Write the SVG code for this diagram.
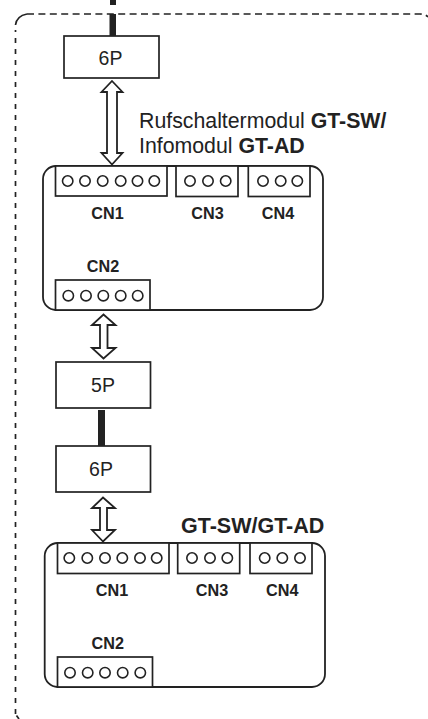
<svg xmlns="http://www.w3.org/2000/svg" width="428" height="719" viewBox="0 0 428 719">
<style>
.b{fill:#fff;stroke:#222;stroke-width:1.7}
.m{fill:#fff;stroke:#222;stroke-width:1.8}
.c{fill:#fff;stroke:#222;stroke-width:1.6}
.a{fill:#fff;stroke:#222;stroke-width:1.8;stroke-linejoin:miter}
.d{fill:none;stroke:#222;stroke-width:1.7}
text{font-family:"Liberation Sans",Arial,sans-serif;fill:#222}
.l{font-size:16.200px;font-weight:bold;text-anchor:middle}
.p{font-size:19.500px;text-anchor:middle}
.t{font-size:21.300px}
.h{font-weight:bold}
</style>
<g id="frame"><path class="d" stroke-dasharray="7 4.4" d="M27 14H420Q425 14 428 17"/><path class="d" stroke-dasharray="5 6" d="M15.500 714V30"/><path class="d" d="M15.500 25Q16.500 16 27 14"/><path class="d" d="M16.500 715.500L19 719"/></g>
<g id="connectors">
<rect x="110" y="0" width="6" height="5" fill="#222"/>
<rect x="109.500" y="14" width="6.500" height="22" fill="#222"/>
<rect x="98" y="410" width="7" height="36" fill="#222"/>
<path class="a" d="M112 81L122.500 92H117V153H122.500L112 164.500L101.500 153H107V92H101.500Z"/>
<path class="a" d="M103.500 314.500L115.500 325H107.500V348H115.500L103.500 358.500L92 348H100V325H92Z"/>
<path class="a" d="M103 497.500L115 508H107V530H115L103 541.500L92 530H100V508H92Z"/>
</g>
<g id="box-6p-top"><rect class="b" x="64" y="36" width="95" height="42"/><text class="p" x="110.500" y="65">6P</text></g>
<g id="label-module"><text class="t" x="139" y="128">Rufschaltermodul <tspan class="h">GT-SW/</tspan></text><text class="t" x="139" y="152.500">Infomodul <tspan class="h">GT-AD</tspan></text></g>
<g id="module-1">
<rect class="m" x="43" y="166" width="280" height="144" rx="13"/>
<rect class="b" x="55.500" y="166" width="111.500" height="30"/>
<g class="c"><circle cx="67.700" cy="181" r="5.200"/><circle cx="85" cy="181" r="5.200"/><circle cx="102.700" cy="181" r="5.200"/><circle cx="120.700" cy="181" r="5.200"/><circle cx="137.500" cy="181" r="5.200"/><circle cx="154.300" cy="181" r="5.200"/></g>
<rect class="b" x="176" y="166" width="62" height="30.500"/>
<g class="c"><circle cx="190" cy="181" r="5.200"/><circle cx="208" cy="181" r="5.200"/><circle cx="225.700" cy="181" r="5.200"/></g>
<rect class="b" x="248.300" y="166" width="61.700" height="30.500"/>
<g class="c"><circle cx="263" cy="181" r="5.200"/><circle cx="280.700" cy="181" r="5.200"/><circle cx="297.300" cy="181" r="5.200"/></g>
<text class="l" x="107.500" y="219">CN1</text><text class="l" x="207.500" y="219">CN3</text><text class="l" x="278" y="219">CN4</text>
<text class="l" x="103" y="272">CN2</text>
<rect class="b" x="55.500" y="280" width="94.500" height="30"/>
<g class="c"><circle cx="68.300" cy="295.700" r="5.200"/><circle cx="86" cy="295.700" r="5.200"/><circle cx="103.300" cy="295.700" r="5.200"/><circle cx="120.700" cy="295.700" r="5.200"/><circle cx="137.700" cy="295.700" r="5.200"/></g>
</g>
<g id="box-5p"><rect class="b" x="56" y="362" width="94.500" height="46"/><text class="p" x="103" y="392">5P</text></g>
<g id="box-6p-lower"><rect class="b" x="56" y="446" width="94.500" height="46"/><text class="p" x="101" y="476">6P</text></g>
<g id="label-gt"><text x="181" y="533" font-size="21.500" font-weight="bold">GT-SW/GT-AD</text></g>
<g id="module-2">
<rect class="m" x="44.700" y="543" width="280.300" height="144" rx="13"/>
<rect class="b" x="57.500" y="543" width="111.500" height="30.500"/>
<g class="c"><circle cx="69.300" cy="558" r="5.200"/><circle cx="87.300" cy="558" r="5.200"/><circle cx="105" cy="558" r="5.200"/><circle cx="122.300" cy="558" r="5.200"/><circle cx="140" cy="558" r="5.200"/><circle cx="156.700" cy="558" r="5.200"/></g>
<rect class="b" x="177.700" y="543" width="62" height="30.500"/>
<g class="c"><circle cx="192" cy="558" r="5.200"/><circle cx="210" cy="558" r="5.200"/><circle cx="227.300" cy="558" r="5.200"/></g>
<rect class="b" x="250" y="543" width="62" height="30.500"/>
<g class="c"><circle cx="264.700" cy="558" r="5.200"/><circle cx="282.300" cy="558" r="5.200"/><circle cx="300" cy="558" r="5.200"/></g>
<text class="l" x="112" y="595.500">CN1</text><text class="l" x="212" y="595.500">CN3</text><text class="l" x="282.300" y="595.500">CN4</text>
<text class="l" x="107.700" y="648.500">CN2</text>
<rect class="b" x="57.500" y="657" width="95" height="30"/>
<g class="c"><circle cx="70" cy="672.700" r="5.200"/><circle cx="87.700" cy="672.700" r="5.200"/><circle cx="105" cy="672.700" r="5.200"/><circle cx="122.700" cy="672.700" r="5.200"/><circle cx="140.300" cy="672.700" r="5.200"/></g>
</g>
</svg>
